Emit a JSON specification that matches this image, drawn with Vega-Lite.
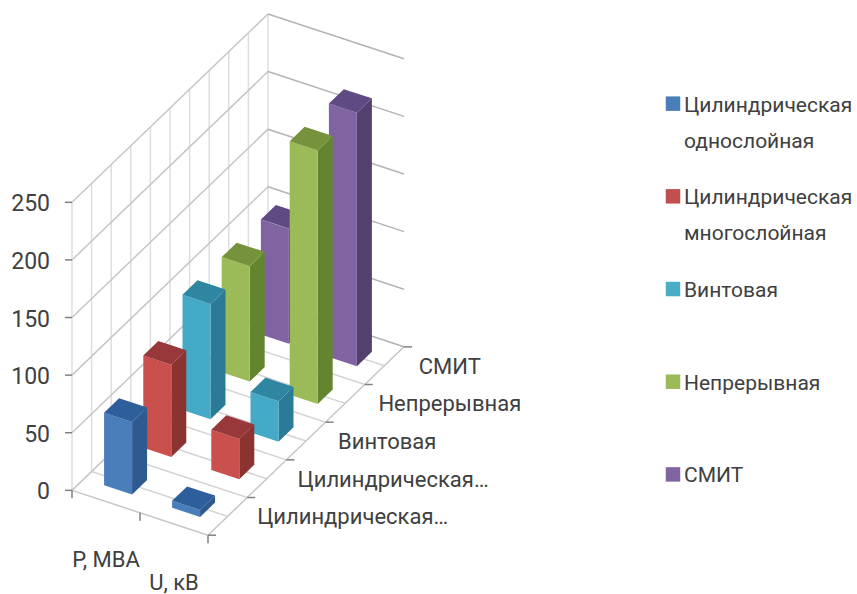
{
"$schema":"https://vega.github.io/schema/vega-lite/v6.json",
"width":857,"height":594,"padding":0,
"autosize":{"type":"fit","contains":"padding"},
"background":"white",
"config":{"view":{"stroke":null}},
"datasets":{
"bars":[
{"series":"СМИТ","si":4,"category":"P, МВА","ci":0,"value":100},
{"series":"СМИТ","si":4,"category":"U, кВ","ci":1,"value":220},
{"series":"Непрерывная","si":3,"category":"P, МВА","ci":0,"value":100},
{"series":"Непрерывная","si":3,"category":"U, кВ","ci":1,"value":220},
{"series":"Винтовая","si":2,"category":"P, МВА","ci":0,"value":100},
{"series":"Винтовая","si":2,"category":"U, кВ","ci":1,"value":35},
{"series":"Цилиндрическая многослойная","si":1,"category":"P, МВА","ci":0,"value":80},
{"series":"Цилиндрическая многослойная","si":1,"category":"U, кВ","ci":1,"value":35},
{"series":"Цилиндрическая однослойная","si":0,"category":"P, МВА","ci":0,"value":63},
{"series":"Цилиндрическая однослойная","si":0,"category":"U, кВ","ci":1,"value":6}
],
"grid":[
{"kind":"wall","u0":0,"u1":0,"d0":0,"d1":1,"v0":0,"v1":0},
{"kind":"wall","u0":0,"u1":0,"d0":0,"d1":1,"v0":50,"v1":50},
{"kind":"wall","u0":0,"u1":0,"d0":0,"d1":1,"v0":100,"v1":100},
{"kind":"wall","u0":0,"u1":0,"d0":0,"d1":1,"v0":150,"v1":150},
{"kind":"wall","u0":0,"u1":0,"d0":0,"d1":1,"v0":200,"v1":200},
{"kind":"wall","u0":0,"u1":0,"d0":0,"d1":1,"v0":250,"v1":250},
{"kind":"back","u0":0,"u1":1,"d0":1,"d1":1,"v0":0,"v1":0},
{"kind":"back","u0":0,"u1":1,"d0":1,"d1":1,"v0":50,"v1":50},
{"kind":"back","u0":0,"u1":1,"d0":1,"d1":1,"v0":100,"v1":100},
{"kind":"back","u0":0,"u1":1,"d0":1,"d1":1,"v0":150,"v1":150},
{"kind":"back","u0":0,"u1":1,"d0":1,"d1":1,"v0":200,"v1":200},
{"kind":"back","u0":0,"u1":1,"d0":1,"d1":1,"v0":250,"v1":250},
{"kind":"vert","u0":0,"u1":0,"d0":0,"d1":0,"v0":0,"v1":250},
{"kind":"vert","u0":0,"u1":0,"d0":0.1,"d1":0.1,"v0":0,"v1":250},
{"kind":"vert","u0":0,"u1":0,"d0":0.2,"d1":0.2,"v0":0,"v1":250},
{"kind":"vert","u0":0,"u1":0,"d0":0.3,"d1":0.3,"v0":0,"v1":250},
{"kind":"vert","u0":0,"u1":0,"d0":0.4,"d1":0.4,"v0":0,"v1":250},
{"kind":"vert","u0":0,"u1":0,"d0":0.5,"d1":0.5,"v0":0,"v1":250},
{"kind":"vert","u0":0,"u1":0,"d0":0.6,"d1":0.6,"v0":0,"v1":250},
{"kind":"vert","u0":0,"u1":0,"d0":0.7,"d1":0.7,"v0":0,"v1":250},
{"kind":"vert","u0":0,"u1":0,"d0":0.8,"d1":0.8,"v0":0,"v1":250},
{"kind":"vert","u0":0,"u1":0,"d0":0.9,"d1":0.9,"v0":0,"v1":250},
{"kind":"vert","u0":0,"u1":0,"d0":1,"d1":1,"v0":0,"v1":250},
{"kind":"wall","u0":0,"u1":1,"d0":0,"d1":0,"v0":0,"v1":0},
{"kind":"floor","u0":0,"u1":1,"d0":0.1,"d1":0.1,"v0":0,"v1":0},
{"kind":"floor","u0":0,"u1":1,"d0":0.2,"d1":0.2,"v0":0,"v1":0},
{"kind":"floor","u0":0,"u1":1,"d0":0.3,"d1":0.3,"v0":0,"v1":0},
{"kind":"floor","u0":0,"u1":1,"d0":0.4,"d1":0.4,"v0":0,"v1":0},
{"kind":"floor","u0":0,"u1":1,"d0":0.5,"d1":0.5,"v0":0,"v1":0},
{"kind":"floor","u0":0,"u1":1,"d0":0.6,"d1":0.6,"v0":0,"v1":0},
{"kind":"floor","u0":0,"u1":1,"d0":0.7,"d1":0.7,"v0":0,"v1":0},
{"kind":"floor","u0":0,"u1":1,"d0":0.8,"d1":0.8,"v0":0,"v1":0},
{"kind":"floor","u0":0,"u1":1,"d0":0.9,"d1":0.9,"v0":0,"v1":0},
{"kind":"wall","u0":1,"u1":1,"d0":0,"d1":1,"v0":0,"v1":0}
],
"vticks":[{"v":0},{"v":50},{"v":100},{"v":150},{"v":200},{"v":250}],
"dticks":[{"d":0},{"d":0.2},{"d":0.4},{"d":0.6},{"d":0.8},{"d":1}],
"uticks":[{"u":0},{"u":0.5},{"u":1}],
"dlabels":[
{"t":"Цилиндрическая…","d":0.1},
{"t":"Цилиндрическая…","d":0.3},
{"t":"Винтовая","d":0.5},
{"t":"Непрерывная","d":0.7},
{"t":"СМИТ","d":0.9}
],
"ulabels":[{"t":"P, МВА","u":0.25},{"t":"U, кВ","u":0.75}],
"legend":[
{"series":"Цилиндрическая однослойная","rank":0,"line":0,"t":"Цилиндрическая"},
{"series":"Цилиндрическая однослойная","rank":0,"line":1,"t":"однослойная"},
{"series":"Цилиндрическая многослойная","rank":1,"line":0,"t":"Цилиндрическая"},
{"series":"Цилиндрическая многослойная","rank":1,"line":1,"t":"многослойная"},
{"series":"Винтовая","rank":2,"line":0,"t":"Винтовая"},
{"series":"Непрерывная","rank":3,"line":0,"t":"Непрерывная"},
{"series":"СМИТ","rank":4,"line":0,"t":"СМИТ"}
]
},
"layer":[
{"data":{"name":"grid"},
"transform":[{"filter":"datum.kind=='vert'"},
{"calculate":"72+136*datum.u0+196*datum.d0","as":"x"},{"calculate":"72+136*datum.u1+196*datum.d1","as":"x2"},
{"calculate":"492+45*datum.u0-189*datum.d0-1.156*datum.v0","as":"y"},{"calculate":"492+45*datum.u1-189*datum.d1-1.156*datum.v1","as":"y2"}],
"mark":{"type":"rule","color":"#dedede","strokeWidth":1.5},
"encoding":{"x":{"field":"x","type":"quantitative","scale":{"domain":[0,857],"nice":false,"zero":false},"axis":null},"x2":{"field":"x2"},
"y":{"field":"y","type":"quantitative","scale":{"domain":[594,0],"nice":false,"zero":false},"axis":null},"y2":{"field":"y2"}}},
{"data":{"name":"grid"},
"transform":[{"filter":"datum.kind=='floor'"},
{"calculate":"72+136*datum.u0+196*datum.d0","as":"x"},{"calculate":"72+136*datum.u1+196*datum.d1","as":"x2"},
{"calculate":"492+45*datum.u0-189*datum.d0-1.156*datum.v0","as":"y"},{"calculate":"492+45*datum.u1-189*datum.d1-1.156*datum.v1","as":"y2"}],
"mark":{"type":"rule","color":"#d4d4d4","strokeWidth":1.5},
"encoding":{"x":{"field":"x","type":"quantitative"},"x2":{"field":"x2"},"y":{"field":"y","type":"quantitative"},"y2":{"field":"y2"}}},
{"data":{"name":"grid"},
"transform":[{"filter":"datum.kind=='wall'"},
{"calculate":"72+136*datum.u0+196*datum.d0","as":"x"},{"calculate":"72+136*datum.u1+196*datum.d1","as":"x2"},
{"calculate":"492+45*datum.u0-189*datum.d0-1.156*datum.v0","as":"y"},{"calculate":"492+45*datum.u1-189*datum.d1-1.156*datum.v1","as":"y2"}],
"mark":{"type":"rule","color":"#c6c6c6","strokeWidth":1.5},
"encoding":{"x":{"field":"x","type":"quantitative"},"x2":{"field":"x2"},"y":{"field":"y","type":"quantitative"},"y2":{"field":"y2"}}},
{"data":{"name":"grid"},
"transform":[{"filter":"datum.kind=='back'"},
{"calculate":"72+136*datum.u0+196*datum.d0","as":"x"},{"calculate":"72+136*datum.u1+196*datum.d1","as":"x2"},
{"calculate":"492+45*datum.u0-189*datum.d0-1.156*datum.v0","as":"y"},{"calculate":"492+45*datum.u1-189*datum.d1-1.156*datum.v1","as":"y2"}],
"mark":{"type":"rule","color":"#b4b4b4","strokeWidth":1.5},
"encoding":{"x":{"field":"x","type":"quantitative"},"x2":{"field":"x2"},"y":{"field":"y","type":"quantitative"},"y2":{"field":"y2"}}},
{"data":{"name":"vticks"},
"transform":[{"calculate":"492-1.156*datum.v","as":"y"},{"calculate":"72","as":"x"},{"calculate":"65","as":"x2"}],
"mark":{"type":"rule","color":"#808080","strokeWidth":1.5},
"encoding":{"x":{"field":"x","type":"quantitative"},"x2":{"field":"x2"},"y":{"field":"y","type":"quantitative"}}},
{"data":{"name":"dticks"},
"transform":[{"calculate":"208+196*datum.d","as":"x"},{"calculate":"datum.x+8","as":"x2"},{"calculate":"537-189*datum.d","as":"y"}],
"mark":{"type":"rule","color":"#808080","strokeWidth":1.5},
"encoding":{"x":{"field":"x","type":"quantitative"},"x2":{"field":"x2"},"y":{"field":"y","type":"quantitative"}}},
{"data":{"name":"uticks"},
"transform":[{"calculate":"72+136*datum.u","as":"x"},{"calculate":"492+45*datum.u","as":"y"},{"calculate":"datum.y+8","as":"y2"}],
"mark":{"type":"rule","color":"#808080","strokeWidth":1.5},
"encoding":{"x":{"field":"x","type":"quantitative"},"y":{"field":"y","type":"quantitative"},"y2":{"field":"y2"}}},
{"data":{"name":"bars"},
"transform":[
{"calculate":"0.25+0.5*datum.ci-0.103","as":"ua"},
{"calculate":"(datum.si+0.5)/5-0.0383","as":"da"},
{"calculate":"72+136*datum.ua+196*datum.da","as":"x0"},
{"calculate":"492+45*datum.ua-189*datum.da","as":"y0"},
{"calculate":"1.156*datum.value","as":"h"},
{"calculate":"['side','front','top']","as":"face"},
{"flatten":["face"]},
{"calculate":"datum.face=='top'?[0,1,2,3]:[0,1]","as":"t"},
{"flatten":["t"]},
{"calculate":"datum.si+'-'+datum.ci+'-'+datum.face","as":"key"},
{"calculate":"datum.si+'-'+datum.face","as":"shade"},
{"calculate":"datum.face=='front'?datum.x0+28*datum.t:datum.face=='side'?datum.x0+28+15*datum.t:datum.x0+[0,15,28,43][datum.t]","as":"px"},
{"calculate":"datum.face=='front'?datum.y0-datum.h+9.27*datum.t:datum.face=='side'?datum.y0+9.27-datum.h-14.5*datum.t:datum.y0-datum.h+[0,-14.5,-14.5+9.27*13/28,9.27-14.5][datum.t]","as":"pyTop"},
{"calculate":"datum.face=='front'?datum.y0+9.27*datum.t:datum.face=='side'?datum.y0+9.27-14.5*datum.t:datum.y0-datum.h+[0,9.27*15/28,9.27,9.27-14.5][datum.t]","as":"pyBot"}
],
"mark":{"type":"area","interpolate":"linear","strokeWidth":0.5},
"encoding":{
"x":{"field":"px","type":"quantitative"},
"y":{"field":"pyTop","type":"quantitative"},
"y2":{"field":"pyBot"},
"detail":{"field":"key"},
"color":{"field":"shade","type":"nominal","legend":null,"scale":{
"domain":["0-front","0-side","0-top","1-front","1-side","1-top","2-front","2-side","2-top","3-front","3-side","3-top","4-front","4-side","4-top"],
"range":["#4a7ebb","#2f5a90","#2e5f9b","#c9504c","#8a3331","#98383a","#45aac8","#2b7a96","#2f86a0","#9bbb59","#64852f","#76933c","#8064a2","#53406e","#5f4a84"]}}
}},
{"data":{"name":"vticks"},
"transform":[{"calculate":"50","as":"x"},{"calculate":"494-1.156*datum.v","as":"y"}],
"mark":{"type":"text","align":"right","baseline":"middle","font":"Roboto","fontSize":23,"color":"#404040"},
"encoding":{"x":{"field":"x","type":"quantitative"},"y":{"field":"y","type":"quantitative"},"text":{"field":"v","type":"quantitative"}}},
{"data":{"name":"dlabels"},
"transform":[{"calculate":"237+202*datum.d","as":"x"},{"calculate":"538-189*datum.d","as":"y"}],
"mark":{"type":"text","align":"left","baseline":"middle","font":"Roboto","fontSize":22,"color":"#404040"},
"encoding":{"x":{"field":"x","type":"quantitative"},"y":{"field":"y","type":"quantitative"},"text":{"field":"t"}}},
{"data":{"name":"ulabels"},
"transform":[{"calculate":"72+136*datum.u","as":"x"},{"calculate":"551+45*datum.u","as":"y"}],
"mark":{"type":"text","align":"center","baseline":"middle","font":"Roboto","fontSize":22,"color":"#404040"},
"encoding":{"x":{"field":"x","type":"quantitative"},"y":{"field":"y","type":"quantitative"},"text":{"field":"t"}}},
{"data":{"name":"legend"},
"transform":[{"filter":"datum.line==0"},{"calculate":"673","as":"x"},{"calculate":"104+93*datum.rank","as":"y"}],
"mark":{"type":"square","size":210,"opacity":1,"filled":true},
"encoding":{"x":{"field":"x","type":"quantitative"},"y":{"field":"y","type":"quantitative"},
"fill":{"field":"series","type":"nominal","legend":null,"scale":{"domain":["Цилиндрическая однослойная","Цилиндрическая многослойная","Винтовая","Непрерывная","СМИТ"],"range":["#4a7ebb","#c0504d","#4bacc6","#9bbb59","#8064a2"]}}}},
{"data":{"name":"legend"},
"transform":[{"calculate":"684","as":"x"},{"calculate":"106+93*datum.rank+36*datum.line","as":"y"}],
"mark":{"type":"text","align":"left","baseline":"middle","font":"Roboto","fontSize":21,"color":"#404040"},
"encoding":{"x":{"field":"x","type":"quantitative"},"y":{"field":"y","type":"quantitative"},"text":{"field":"t"}}}
]
}
